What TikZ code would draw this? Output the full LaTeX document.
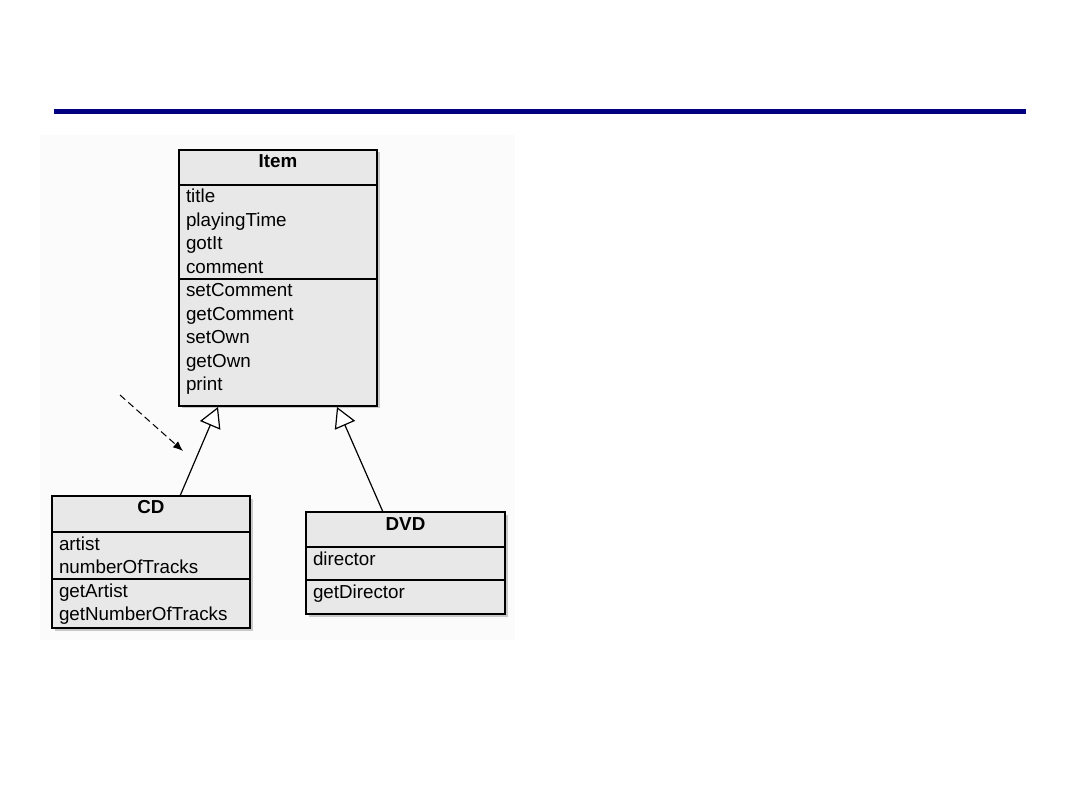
\documentclass[tikz,border=0pt]{standalone}
\usepackage{fontspec}
\setmainfont{Liberation Sans}
\usepackage{xcolor}
\usetikzlibrary{arrows.meta,positioning,shadows}
\definecolor{RuleNavy}{HTML}{000080}
\definecolor{ClassFill}{HTML}{E8E8E8}
\definecolor{PanelGray}{HTML}{FBFBFB}

\begin{document}
\begin{tikzpicture}[
  x=1pt, y=1pt,
  node distance=0pt,
  classpart/.style={
    draw=black,
    fill=ClassFill,
    line width=1.2pt,
    inner xsep=7pt,
    inner ysep=0pt,
    outer sep=0pt,
    align=left,
    text height=18pt,
    font=\fontsize{18.8}{23.5}\selectfont,
    drop shadow={shadow xshift=2.5pt, shadow yshift=-2.5pt, fill=black!40}
  },
  classhead/.style={classpart, align=center, font=\fontsize{18.8}{23.5}\selectfont\bfseries},
  inherits/.style={-{Triangle[length=20pt,width=22pt,fill=white]}, line width=1.2pt, draw=black},
  hintarrow/.style={-{Latex[length=10pt,width=8pt]}, line width=1pt, dash pattern=on 7pt off 4pt}
]
\useasboundingbox (0,0) rectangle (1080,-810);
\fill[white] (0,0) rectangle (1080,-810);
\draw[RuleNavy, line width=5pt] (54,-112) -- (1026,-112);
\fill[PanelGray] (40,-135) rectangle (515,-640);

% Item
\node[classhead, anchor=north west, text width=184pt, text depth=17pt] (item-h) at (179,-150) {Item};
\node[classpart, below=of item-h, text width=184pt, text depth=76pt] (item-a) {title\\playingTime\\gotIt\\comment};
\node[classpart, below=of item-a, text width=184pt, text depth=109pt] (item-m) {setComment\\getComment\\setOwn\\getOwn\\print};

% CD
\node[classhead, anchor=north west, text width=184pt, text depth=18pt] (cd-h) at (52,-496) {CD};
\node[classpart, below=of cd-h, text width=184pt, text depth=29pt] (cd-a) {artist\\numberOfTracks};
\node[classpart, below=of cd-a, text width=184pt, text depth=31pt] (cd-m) {getArtist\\getNumberOfTracks};

% DVD
\node[classhead, anchor=north west, text width=185pt, text depth=17pt] (dvd-h) at (306,-512) {DVD};
\node[classpart, below=of dvd-h, text width=185pt, text depth=15pt] (dvd-a) {director};
\node[classpart, below=of dvd-a, text width=185pt, text depth=16pt] (dvd-m) {getDirector};

\draw[inherits] ([xshift=128pt]cd-h.north west) -- ([xshift=39pt,yshift=-1pt]item-m.south west);
\draw[inherits] ([xshift=77pt]dvd-h.north west) -- ([xshift=158pt,yshift=-1pt]item-m.south west);

\coordinate (hint-start) at (120,-395);
\coordinate (hint-end) at (183,-451);
\draw[hintarrow] (hint-start) -- (hint-end);
\end{tikzpicture}
\end{document}
